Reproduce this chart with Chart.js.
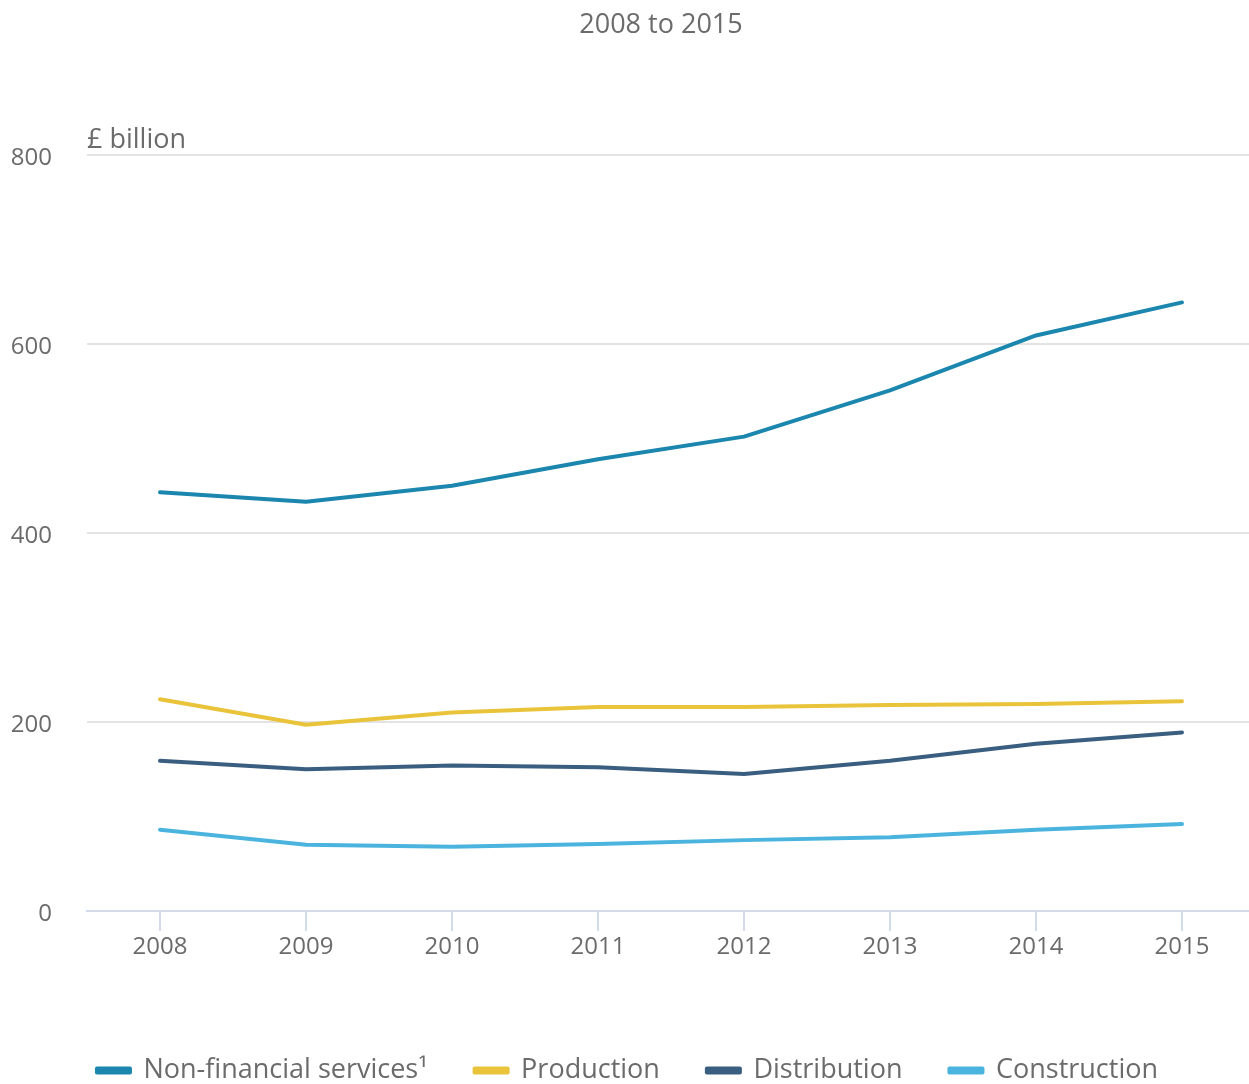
<!DOCTYPE html>
<html>
<head>
<meta charset="utf-8">
<script src="https://cdn.jsdelivr.net/npm/chart.js@4"></script>
<style>
  html, body { margin: 0; padding: 0; background: #ffffff; overflow: hidden; }
  #wrap { width: 1249px; height: 1084px; overflow: hidden; }
  #chart { display: block; }
</style>
</head>
<body>
<div id="wrap"><canvas id="chart" width="1255" height="1084"></canvas></div>
<script>
// Turnover by industry, £ billion
const years = ['2008', '2009', '2010', '2011', '2012', '2013', '2014', '2015'];
const nonFinancialServices = [443, 433, 450, 478, 502, 551, 609, 644];
const production = [224, 197, 210, 216, 216, 218, 219, 222];
const distribution = [159, 150, 154, 152, 145, 159, 177, 189];
const construction = [86, 70, 68, 71, 75, 78, 86, 92];
const yTicks = [0, 200, 400, 600, 800];
const chartTitle = '2008 to 2015';
const unitText = '£ billion';

const FONT = "'Open Sans', sans-serif";
const TEXT = '#6b6b6b';

function series(label, data, color) {
  return {
    label, data,
    borderColor: color,
    backgroundColor: color,
    borderWidth: 4,
    borderCapStyle: 'round',
    borderJoinStyle: 'round',
    pointRadius: 0,
    pointHoverRadius: 0,
    tension: 0
  };
}

// Heading centred over the plot, plus the unit label above the top gridline
const headings = {
  id: 'headings',
  afterDraw(chart) {
    const { ctx, chartArea } = chart;
    ctx.save();
    ctx.font = `27px ${FONT}`;
    ctx.fillStyle = TEXT;
    ctx.textBaseline = 'middle';
    ctx.textAlign = 'center';
    ctx.fillText(chartTitle, 661, 25);
    ctx.textAlign = 'left';
    ctx.textBaseline = 'alphabetic';
    ctx.fillText(unitText, chartArea.left, chartArea.top - 7);
    ctx.restore();
  }
};

new Chart(document.getElementById('chart'), {
  type: 'line',
  data: {
    labels: years,
    datasets: [
      series('Non-financial services¹', nonFinancialServices, '#1b86ae'),
      series('Production', production, '#e9c43a'),
      series('Distribution', distribution, '#3a5e80'),
      series('Construction', construction, '#4bb4de')
    ]
  },
  options: {
    responsive: false,
    animation: false,
    layout: { padding: { left: 0, right: 0, top: 155, bottom: -10 } },
    plugins: {
      title: { display: false },
      legend: {
        position: 'bottom',
        labels: {
          color: TEXT,
          font: { family: FONT, size: 27 },
          boxWidth: 33,
          boxHeight: 4,
          padding: 47
        }
      },
      tooltip: { enabled: false }
    },
    scales: {
      x: {
        offset: true,
        grid: {
          display: true,
          drawOnChartArea: false,
          drawTicks: true,
          tickLength: 20,
          color: '#d3dcea',
          lineWidth: 2
        },
        border: { display: true, color: '#d3dcea', width: 2 },
        ticks: {
          color: TEXT,
          font: { family: FONT, size: 24 },
          padding: 2,
          maxRotation: 0
        },
        afterFit(scale) { scale.height = 99; }
      },
      y: {
        min: 0,
        max: 800,
        afterBuildTicks(scale) { scale.ticks = yTicks.map(v => ({ value: v })); },
        grid: {
          color: (c) => c.tick && c.tick.value === 0 ? 'rgba(0,0,0,0)' : '#e3e3e3',
          lineWidth: 2,
          drawTicks: false
        },
        border: { display: false },
        ticks: {
          color: TEXT,
          font: { family: FONT, size: 24 },
          padding: 35,
          labelOffset: 3
        },
        afterFit(scale) { scale.width = 87; }
      }
    }
  },
  plugins: [headings]
});
</script>
</body>
</html>
